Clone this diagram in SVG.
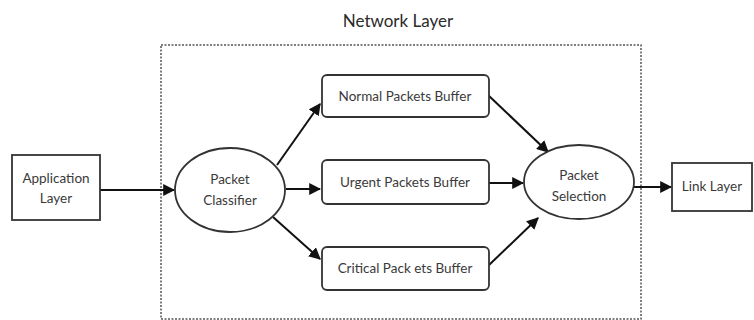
<svg xmlns="http://www.w3.org/2000/svg" width="754" height="320" viewBox="0 0 754 320">
<defs>
<style>
.box{fill:#fff;stroke:#333;stroke-width:1.8}
.lbl{font-family:Lato,"Open Sans",sans-serif;font-size:13.5px;fill:#3a3a3a;text-anchor:middle}
.edge{stroke:#111;stroke-width:2;fill:none;marker-end:url(#ah)}
</style>
<marker id="ah" viewBox="0 0 10 10" refX="9" refY="5" markerWidth="6" markerHeight="6" orient="auto" markerUnits="strokeWidth">
<path d="M0,0 L10,5 L0,10 z" fill="#111"/>
</marker>
</defs>
<rect width="754" height="320" fill="#fff"/>
<g id="network-layer">
<rect x="161" y="45" width="480" height="274" fill="none" stroke="#555" stroke-width="1.5" stroke-dasharray="2,1.5"/>
<text x="398" y="27" class="lbl" style="font-size:17px;fill:#2a2a2a">Network Layer</text>
</g>
<g id="connectors">
<line class="edge" x1="100" y1="190" x2="174" y2="190"/>
<line class="edge" x1="277" y1="165" x2="320" y2="104"/>
<line class="edge" x1="286" y1="189" x2="320" y2="189"/>
<line class="edge" x1="273" y1="217" x2="320" y2="259"/>
<line class="edge" x1="488" y1="95" x2="548" y2="152"/>
<line class="edge" x1="489" y1="183" x2="523" y2="183"/>
<line class="edge" x1="489" y1="265" x2="538" y2="218"/>
<line class="edge" x1="634" y1="187" x2="671" y2="187"/>
</g>
<g id="application-layer">
<rect class="box" x="12" y="155" width="88" height="65"/>
<text class="lbl" x="56" y="183">Application</text>
<text class="lbl" x="56" y="203">Layer</text>
</g>
<g id="packet-classifier">
<ellipse class="box" cx="230" cy="190" rx="55" ry="42"/>
<text class="lbl" x="230" y="184">Packet</text>
<text class="lbl" x="230" y="205">Classifier</text>
</g>
<g id="normal-buffer">
<rect class="box" x="322" y="75" width="167" height="42" rx="5"/>
<text class="lbl" x="405" y="101">Normal Packets Buffer</text>
</g>
<g id="urgent-buffer">
<rect class="box" x="322" y="160" width="167" height="44" rx="5"/>
<text class="lbl" x="405" y="187">Urgent Packets Buffer</text>
</g>
<g id="critical-buffer">
<rect class="box" x="322" y="247" width="167" height="43" rx="5"/>
<text class="lbl" x="405" y="273">Critical Pack ets Buffer</text>
</g>
<g id="packet-selection">
<ellipse class="box" cx="579" cy="182" rx="55" ry="37"/>
<text class="lbl" x="579" y="180">Packet</text>
<text class="lbl" x="579" y="201">Selection</text>
</g>
<g id="link-layer">
<rect class="box" x="672" y="163" width="80" height="48"/>
<text class="lbl" x="712" y="191">Link Layer</text>
</g>
</svg>
